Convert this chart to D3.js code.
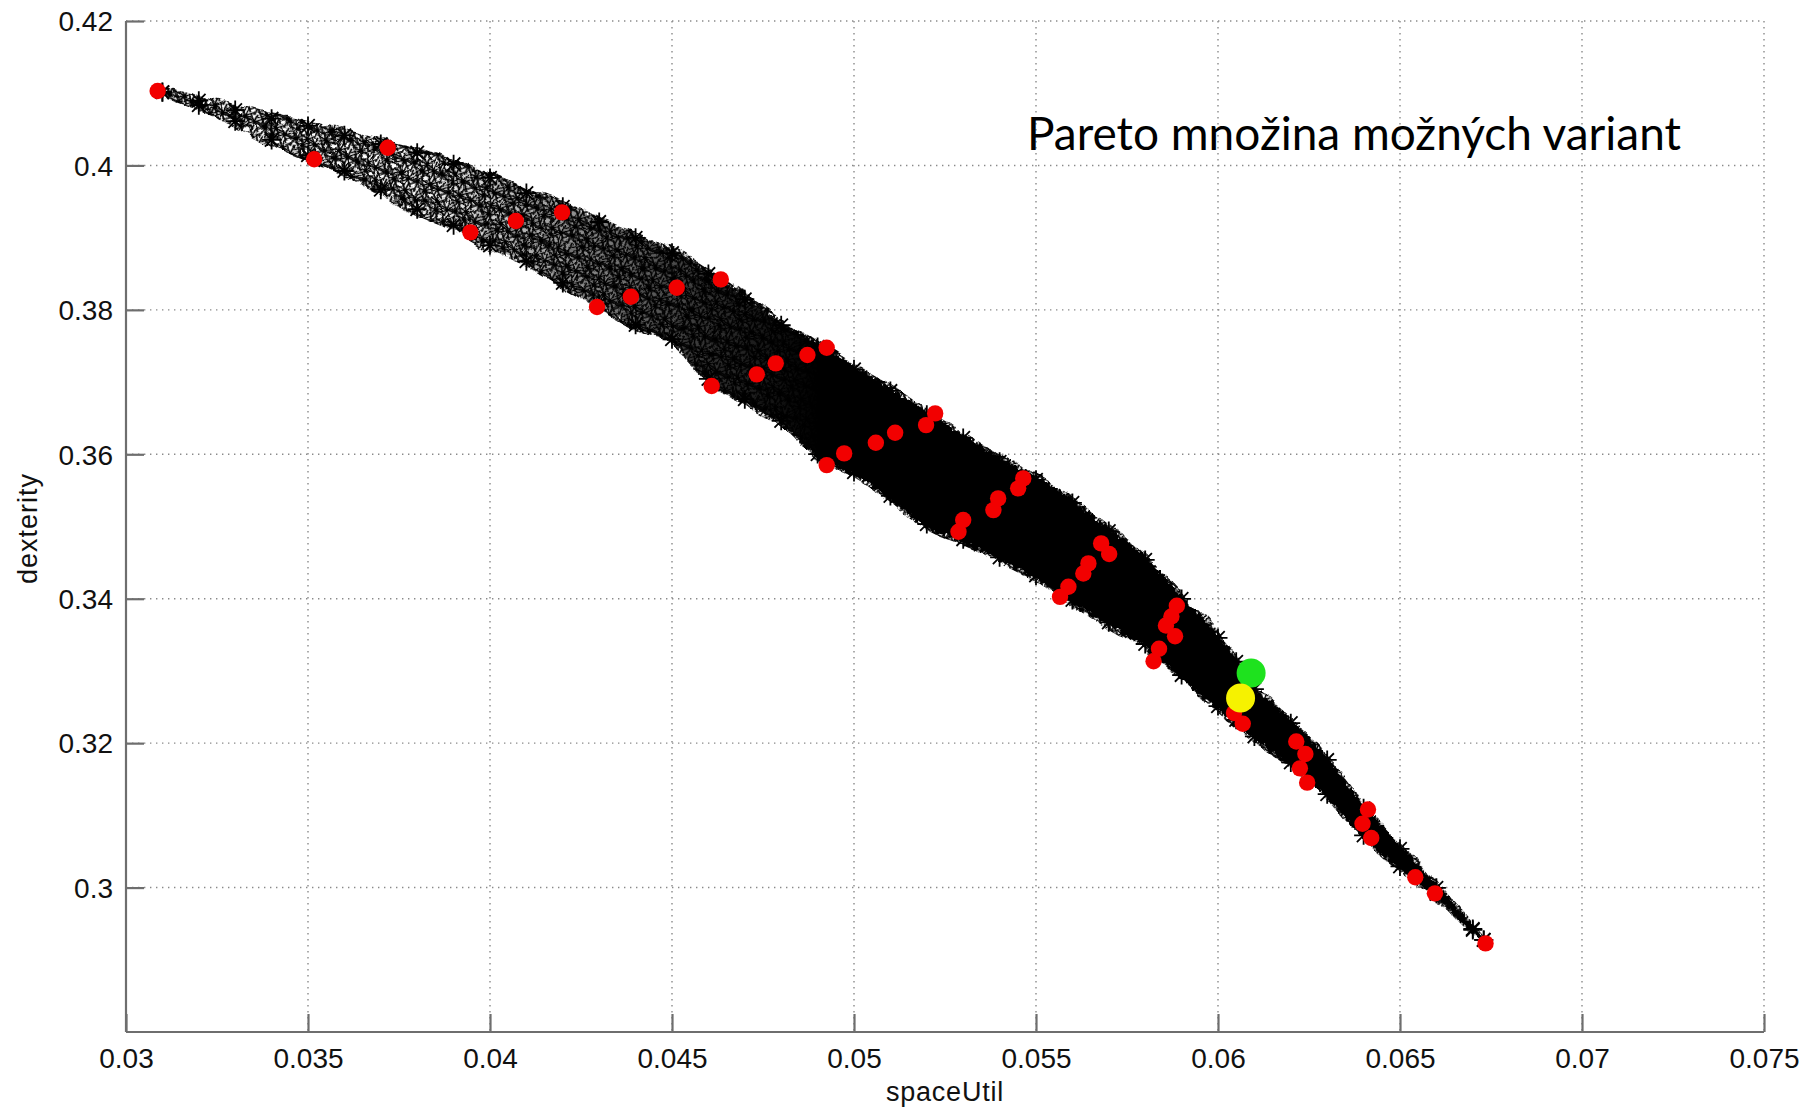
<!DOCTYPE html>
<html>
<head>
<meta charset="utf-8">
<script src="https://cdn.jsdelivr.net/npm/d3@7"></script>
<style>
  html, body { margin: 0; padding: 0; background: #ffffff; }
  svg { display: block; }
</style>
</head>
<body>
<svg id="chart" width="1814" height="1111"></svg>
<script>
// ---- Feasible design variants: envelope of the star cloud (spaceUtil -> dexterity range)
const bandX = [0.031, 0.032, 0.033, 0.034, 0.035, 0.036, 0.037, 0.038, 0.039, 0.040,
               0.041, 0.042, 0.043, 0.044, 0.045, 0.046, 0.047, 0.048, 0.049, 0.050,
               0.051, 0.052, 0.053, 0.054, 0.055, 0.056, 0.057, 0.058, 0.059, 0.060,
               0.0605, 0.061, 0.062, 0.063, 0.064, 0.065, 0.066, 0.067, 0.0673];
const bandUpper = [0.4110, 0.4098, 0.4085, 0.4073, 0.4063, 0.4050, 0.4038, 0.4026, 0.4010, 0.3991,
                   0.3970, 0.3951, 0.3930, 0.3908, 0.3887, 0.3858, 0.3823, 0.3787, 0.3757, 0.3726,
                   0.3696, 0.3663, 0.3631, 0.3598, 0.3573, 0.3541, 0.3502, 0.3462, 0.3408, 0.3354,
                   0.3321, 0.3283, 0.3236, 0.3185, 0.3118, 0.3062, 0.3008, 0.2951, 0.2933];
const bandLower = [0.4093, 0.4075, 0.4053, 0.4027, 0.4006, 0.3984, 0.3958, 0.3931, 0.3909, 0.3881,
                   0.3859, 0.3829, 0.3800, 0.3771, 0.3751, 0.3696, 0.3668, 0.3638, 0.3592, 0.3567,
                   0.3534, 0.3495, 0.3474, 0.3449, 0.3424, 0.3390, 0.3359, 0.3329, 0.3286, 0.3243,
                   0.3224, 0.3201, 0.3165, 0.3121, 0.3064, 0.3021, 0.2983, 0.2933, 0.2922];

// ---- Pareto-optimal variants (red)
const paretoSpaceUtil = [0.03087, 0.03517, 0.03719, 0.03946, 0.04071, 0.04198, 0.04294, 0.04387,
                         0.04513, 0.04634, 0.04609, 0.04733, 0.04785, 0.04872, 0.04925, 0.04925,
                         0.04973, 0.05060, 0.05113, 0.05198, 0.05223, 0.05287, 0.05300, 0.05383,
                         0.05396, 0.05451, 0.05465, 0.05566, 0.05589, 0.05630, 0.05644, 0.05679,
                         0.05701, 0.05887, 0.05872, 0.05857, 0.05882, 0.05838, 0.05823, 0.06044,
                         0.06068, 0.06215, 0.06240, 0.06225, 0.06245, 0.06412, 0.06397, 0.06421,
                         0.06542, 0.06596, 0.06735];
const paretoDexterity = [0.41030, 0.40085, 0.40245, 0.39073, 0.39230, 0.39350, 0.38039, 0.38181,
                         0.38306, 0.38422, 0.36945, 0.37107, 0.37259, 0.37374, 0.37475, 0.35850,
                         0.36012, 0.36159, 0.36298, 0.36404, 0.36566, 0.34927, 0.35089, 0.35227,
                         0.35389, 0.35528, 0.35666, 0.34026, 0.34165, 0.34350, 0.34489, 0.34766,
                         0.34619, 0.33902, 0.33754, 0.33629, 0.33481, 0.33307, 0.33134, 0.32417,
                         0.32269, 0.32022, 0.31849, 0.31651, 0.31453, 0.31082, 0.30884, 0.30686,
                         0.30143, 0.29920, 0.29227];

// ---- Highlighted variants
const highlightSpaceUtil = [0.06091, 0.06062];
const highlightDexterity = [0.32971, 0.32625];
const highlightColors = ["#1ee21e", "#f6f200"];

// ---- Axes
const xTicks = [0.03, 0.035, 0.04, 0.045, 0.05, 0.055, 0.06, 0.065, 0.07, 0.075];
const xTickLabels = ["0.03", "0.035", "0.04", "0.045", "0.05", "0.055", "0.06", "0.065", "0.07", "0.075"];
const yTicks = [0.3, 0.32, 0.34, 0.36, 0.38, 0.4, 0.42];
const yTickLabels = ["0.3", "0.32", "0.34", "0.36", "0.38", "0.4", "0.42"];

// Density of the star cloud along spaceUtil (opacity of the solid core)
const densityAt = [0.031, 0.038, 0.042, 0.046, 0.049];
const densityVal = [0.0, 0.0, 0.4, 0.8, 1.0];

const titleText = "Pareto množina možných variant";

// ---------------------------------------------------------------
const svg = d3.select("#chart");
const plot = { left: 126, right: 1764, top: 21, bottom: 1032 };

const x = d3.scaleLinear().domain([0.03, 0.075]).range([plot.left, plot.right]);
const y = d3.scaleLinear().domain([0.28, 0.42]).range([plot.bottom, plot.top]);

const band = bandX.map((v, i) => ({ x: v, hi: bandUpper[i], lo: bandLower[i] }));
const pareto = paretoSpaceUtil.map((v, i) => ({ x: v, y: paretoDexterity[i] }));
const highlight = highlightSpaceUtil.map((v, i) => ({ x: v, y: highlightDexterity[i], c: highlightColors[i] }));

// asterisk marker ('*' = plus + cross)
function asterisk(r) {
  const d = r * Math.SQRT1_2;
  return `M${-r},0L${r},0M0,${-r}L0,${r}M${-d},${-d}L${d},${d}M${-d},${d}L${d},${-d}`;
}

const defs = svg.append("defs");

// star texture of the sparse part of the cloud
const tileW = 26, tileH = 20;
const pat = defs.append("pattern")
  .attr("id", "starTexture")
  .attr("patternUnits", "userSpaceOnUse")
  .attr("width", tileW).attr("height", tileH)
  .attr("patternTransform", "rotate(-18)");
const centers = [[4, 3], [15, 7.5], [9, 13.5], [21, 16.5]];
centers.forEach(([cx, cy]) => {
  [-tileW, 0, tileW].forEach(ox => {
    [-tileH, 0, tileH].forEach(oy => {
      pat.append("path")
        .attr("d", asterisk(9.5))
        .attr("transform", `translate(${cx + ox},${cy + oy})`)
        .attr("stroke", "#000")
        .attr("stroke-width", 1.7)
        .attr("fill", "none");
    });
  });
});

// density gradient of the core
const grad = defs.append("linearGradient")
  .attr("id", "density")
  .attr("gradientUnits", "userSpaceOnUse")
  .attr("x1", x(densityAt[0])).attr("x2", x(densityAt[densityAt.length - 1]))
  .attr("y1", 0).attr("y2", 0);
densityAt.forEach((v, i) => {
  grad.append("stop")
    .attr("offset", (v - densityAt[0]) / (densityAt[densityAt.length - 1] - densityAt[0]))
    .attr("stop-color", "#000")
    .attr("stop-opacity", densityVal[i]);
});

// waviness for the textured cloud, ragged edge for the solid core
function displaceFilter(id, freq, scale, seed) {
  const f = defs.append("filter")
    .attr("id", id)
    .attr("filterUnits", "userSpaceOnUse")
    .attr("x", 0).attr("y", 0).attr("width", 1814).attr("height", 1111);
  f.append("feTurbulence")
    .attr("type", "fractalNoise").attr("baseFrequency", freq)
    .attr("numOctaves", 2).attr("seed", seed).attr("result", "noise");
  f.append("feDisplacementMap")
    .attr("in", "SourceGraphic").attr("in2", "noise")
    .attr("scale", scale).attr("xChannelSelector", "R").attr("yChannelSelector", "G");
}
displaceFilter("wavy", 0.045, 10, 5);
displaceFilter("ragged", 0.22, 9, 3);

// ---- grid
const gridG = svg.append("g");
gridG.selectAll("line").data(xTicks.slice(1)).join("line")
  .attr("x1", d => x(d)).attr("x2", d => x(d))
  .attr("y1", plot.top).attr("y2", plot.bottom)
  .attr("stroke", "#8a8a8a").attr("stroke-width", 1.4)
  .attr("stroke-dasharray", "1.4,4.6");
gridG.append("g").selectAll("line").data(yTicks).join("line")
  .attr("y1", d => y(d)).attr("y2", d => y(d))
  .attr("x1", plot.left).attr("x2", plot.right)
  .attr("stroke", "#8a8a8a").attr("stroke-width", 1.4)
  .attr("stroke-dasharray", "1.4,4.6");

// ---- star cloud
const areaOuter = d3.area()
  .x(d => x(d.x)).y0(d => y(d.lo)).y1(d => y(d.hi))
  .curve(d3.curveMonotoneX);
const inset = 3;
const areaCore = d3.area()
  .x(d => x(d.x))
  .y0(d => Math.max(y(d.lo) - inset, (y(d.lo) + y(d.hi)) / 2))
  .y1(d => Math.min(y(d.hi) + inset, (y(d.lo) + y(d.hi)) / 2))
  .curve(d3.curveMonotoneX);

svg.append("path").datum(band)
  .attr("d", areaOuter)
  .attr("fill", "url(#starTexture)")
  .attr("filter", "url(#wavy)");
svg.append("path").datum(band)
  .attr("d", areaCore)
  .attr("fill", "url(#density)")
  .attr("filter", "url(#ragged)");

// markers sitting on the rim of the cloud
const rimInset = 6;
const rim = [];
band.forEach(d => {
  const mid = (y(d.lo) + y(d.hi)) / 2;
  rim.push({ px: x(d.x), py: Math.min(y(d.hi) + rimInset, mid) });
  rim.push({ px: x(d.x), py: Math.max(y(d.lo) - rimInset, mid) });
});
svg.append("g").selectAll("path").data(rim).join("path")
  .attr("d", asterisk(9.5))
  .attr("transform", d => `translate(${d.px},${d.py})`)
  .attr("stroke", "#000").attr("stroke-width", 1.8)
  .attr("fill", "none");

// ---- Pareto points
svg.append("g").selectAll("circle").data(pareto).join("circle")
  .attr("cx", d => x(d.x)).attr("cy", d => y(d.y))
  .attr("r", 8.2)
  .attr("fill", "#f20000");

// ---- highlighted points
svg.append("g").selectAll("circle").data(highlight).join("circle")
  .attr("cx", d => x(d.x)).attr("cy", d => y(d.y))
  .attr("r", 14.5)
  .attr("fill", d => d.c);

// ---- axes
const axisColor = "#6e6e6e";
const fontAxis = "'Liberation Sans', Arial, Helvetica, sans-serif";

const xAxis = d3.axisBottom(x).tickValues(xTicks)
  .tickFormat((d, i) => xTickLabels[i])
  .tickSizeInner(-18).tickSizeOuter(0);
const gx = svg.append("g").attr("transform", `translate(0,${plot.bottom})`).call(xAxis);

const yAxis = d3.axisLeft(y).tickValues(yTicks)
  .tickFormat((d, i) => yTickLabels[i])
  .tickSizeInner(-18).tickSizeOuter(0);
const gy = svg.append("g").attr("transform", `translate(${plot.left},0)`).call(yAxis);

[gx, gy].forEach(g => {
  g.select(".domain").attr("stroke", axisColor).attr("stroke-width", 2.2);
  g.selectAll(".tick line").attr("stroke", axisColor).attr("stroke-width", 2.2);
  g.selectAll(".tick text")
    .attr("fill", "#111")
    .style("font-family", fontAxis)
    .style("font-size", "28px");
});
gx.select(".domain").attr("d", `M${plot.left},0H${plot.right}`);
gy.select(".domain").attr("d", `M0,${plot.bottom}V${plot.top}`);
gx.selectAll(".tick text").attr("dy", "0.71em").attr("y", 16);
gy.selectAll(".tick text").attr("dy", "0.35em").attr("x", -13);

// axis titles
svg.append("text")
  .attr("x", (plot.left + plot.right) / 2).attr("y", 1101)
  .attr("text-anchor", "middle")
  .style("font-family", fontAxis).style("font-size", "27px")
  .style("letter-spacing", "0.8px")
  .attr("fill", "#111")
  .text("spaceUtil");

svg.append("text")
  .attr("transform", `translate(37,${(plot.top + plot.bottom) / 2 + 2}) rotate(-90)`)
  .attr("text-anchor", "middle")
  .style("font-family", fontAxis).style("font-size", "27px")
  .style("letter-spacing", "1px")
  .attr("fill", "#111")
  .text("dexterity");

// ---- annotation
const title = svg.append("text")
  .attr("x", 1027).attr("y", 150)
  .style("font-family", "Lato, 'Open Sans', 'Noto Sans', sans-serif")
  .style("font-size", "48px")
  .attr("fill", "#000")
  .text(titleText);
const targetWidth = 654;
const w0 = title.node().getComputedTextLength();
title.style("font-size", (48 * targetWidth / w0).toFixed(2) + "px");
</script>
</body>
</html>
